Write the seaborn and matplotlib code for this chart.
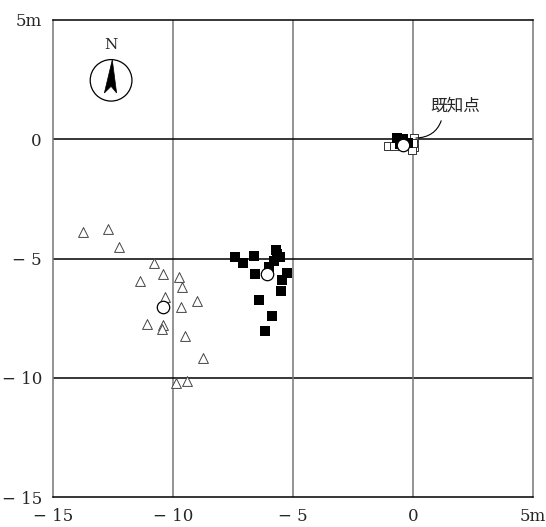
import matplotlib
matplotlib.use("Agg")
import matplotlib.pyplot as plt
from matplotlib.patches import Circle, Polygon
import seaborn as sns
import pandas as pd

# survey points (m)
tri_x = [-13.74, -12.70, -12.24, -10.78, -10.43, -11.38, -9.76, -9.61, -10.32,
         -8.99, -9.65, -11.07, -10.43, -10.47, -9.51, -8.75, -9.88, -9.40]
tri_y = [-3.88, -3.77, -4.51, -5.20, -5.66, -5.93, -5.79, -6.21, -6.62,
         -6.79, -7.04, -7.75, -7.80, -7.96, -8.26, -9.19, -10.22, -10.15]

sq_x = [-7.40, -7.10, -6.64, -6.57, -5.71, -5.53, -6.01, -5.80, -5.24,
        -5.46, -5.51, -6.43, -5.88, -6.15, -5.65]
sq_y = [-4.95, -5.20, -4.88, -5.65, -4.64, -4.95, -5.34, -5.10, -5.62,
        -5.90, -6.37, -6.74, -7.43, -8.02, -4.80]

known_open_x = [-1.05, -0.80, 0.05, 0.05, -0.05, 0.00]
known_open_y = [-0.30, -0.30, 0.05, -0.32, -0.45, -0.15]
known_fill_x = [-0.65, -0.40, -0.20, -0.55]
known_fill_y = [0.05, 0.02, -0.15, -0.20]

center_x = [-10.40, -6.08, -0.40]
center_y = [-7.04, -5.65, -0.25]

ticks = [-15, -10, -5, 0, 5]
tick_labels = ["\u2212 15", "\u2212 10", "\u2212 5", "0", "5m"]

sns.set_style("white")
plt.rcParams["font.family"] = ["DejaVu Serif", "Noto Sans CJK JP"]

fig = plt.figure(figsize=(5.46, 5.27), dpi=100)
ax = fig.add_axes([53 / 546, 30 / 527, 480 / 546, 477 / 527])

grey = "#777777"
for v in [-10, -5, 0]:
    ax.axvline(v, color=grey, lw=1.1, zorder=1)
    ax.axhline(v, color="black", lw=1.1, zorder=1)

tri = pd.DataFrame({"x": tri_x, "y": tri_y})
sq = pd.DataFrame({"x": sq_x, "y": sq_y})
ko = pd.DataFrame({"x": known_open_x, "y": known_open_y})
kf = pd.DataFrame({"x": known_fill_x, "y": known_fill_y})
ce = pd.DataFrame({"x": center_x, "y": center_y})

sns.scatterplot(data=tri, x="x", y="y", marker="^", s=50, facecolor="white",
                edgecolor="#444444", linewidth=0.7, ax=ax, zorder=3)
sns.scatterplot(data=sq, x="x", y="y", marker="s", s=60, color="black",
                edgecolor="black", linewidth=0, ax=ax, zorder=3)
sns.scatterplot(data=ko, x="x", y="y", marker="s", s=40, facecolor="white",
                edgecolor="#333333", linewidth=0.7, ax=ax, zorder=3)
sns.scatterplot(data=kf, x="x", y="y", marker="s", s=45, color="black",
                edgecolor="black", linewidth=0, ax=ax, zorder=4)
sns.scatterplot(data=ce, x="x", y="y", marker="o", s=80, facecolor="white",
                edgecolor="black", linewidth=0.9, ax=ax, zorder=5)

# label for the known point
ax.annotate("既知点", xy=(0.12, 0.05), xytext=(0.72, 1.38), fontsize=12,
            family=["Noto Sans CJK JP"], ha="left", va="center", zorder=6,
            arrowprops=dict(arrowstyle="-", color="black", lw=0.8,
                            connectionstyle="arc3,rad=-0.4",
                            relpos=(0.25, 0.0), shrinkA=2, shrinkB=0))

# north arrow
ax.add_patch(Circle((-12.58, 2.47), 0.87, fill=False, ec="black", lw=0.9, zorder=6))
ax.add_patch(Polygon([(-12.53, 3.33), (-12.86, 1.94), (-12.58, 2.22), (-12.35, 1.94)],
                     closed=True, fc="black", ec="black", lw=0.5, zorder=6))
ax.text(-12.58, 3.97, "N", ha="center", va="center", fontsize=11)

ax.set_xlim(-15, 5)
ax.set_ylim(-15, 5)
ax.set_xticks(ticks)
ax.set_xticklabels(tick_labels)
ax.set_yticks(ticks)
ax.set_yticklabels(tick_labels)
ax.tick_params(length=0, labelsize=12, pad=8)
ax.set_xlabel("")
ax.set_ylabel("")
for side in ["top", "bottom"]:
    ax.spines[side].set_color("black")
for side in ["left", "right"]:
    ax.spines[side].set_color(grey)
for sp in ax.spines.values():
    sp.set_linewidth(1.1)

fig.savefig("out.png", dpi=100)
